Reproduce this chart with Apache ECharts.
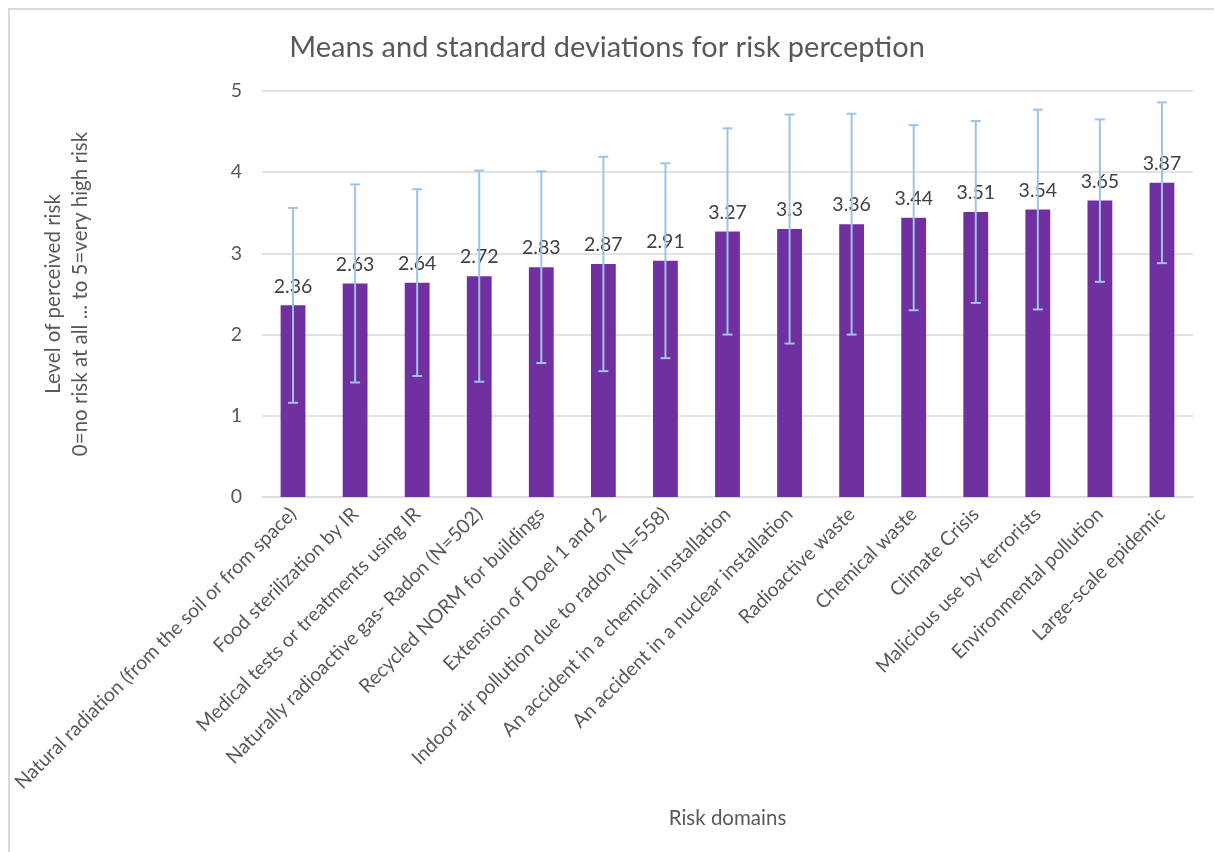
<!DOCTYPE html>
<html>
<head>
<meta charset="utf-8">
<script src="https://cdn.jsdelivr.net/npm/echarts@6/dist/echarts.min.js"></script>
<style>html,body{margin:0;padding:0;background:#fff;}#c{width:1214px;height:852px;}</style>
</head>
<body>
<div id="c"></div>
<script>
const categories = [
  "Natural radiation (from the soil or from space)",
  "Food sterilization by IR",
  "Medical tests or treatments using IR",
  "Naturally radioactive gas- Radon (N=502)",
  "Recycled NORM for buildings",
  "Extension of Doel 1 and 2",
  "Indoor air pollution due to radon (N=558)",
  "An accident in a chemical installation",
  "An accident in a nuclear installation",
  "Radioactive waste",
  "Chemical waste",
  "Climate Crisis",
  "Malicious use by terrorists",
  "Environmental pollution",
  "Large-scale epidemic"
];
const means = [2.36, 2.63, 2.64, 2.72, 2.83, 2.87, 2.91, 3.27, 3.3, 3.36, 3.44, 3.51, 3.54, 3.65, 3.87];
const stdevs = [1.2, 1.22, 1.15, 1.3, 1.18, 1.32, 1.2, 1.27, 1.41, 1.36, 1.14, 1.12, 1.23, 1.0, 0.99];
const yTicks = [0, 1, 2, 3, 4, 5];

const FONT = "Lato";
const errData = means.map((m, i) => [i, m - stdevs[i], m + stdevs[i]]);

const chart = echarts.init(document.getElementById('c'));
chart.setOption({
  animation: false,
  backgroundColor: '#fff',
  textStyle: { fontFamily: FONT },
  title: {
    text: 'Means and standard deviations for risk perception',
    left: 'center',
    top: 28,
    textStyle: { fontFamily: FONT, fontSize: 29, fontWeight: 'normal', color: '#595959' }
  },
  graphic: [{
    type: 'rect', shape: { x: 9, y: 9, width: 1300, height: 900 },
    style: { fill: 'none', stroke: '#d9d9d9', lineWidth: 2 }, silent: true, z: -1
  }],
  grid: { left: 262, right: 21, top: 91, bottom: 355 },
  xAxis: {
    type: 'category',
    data: categories,
    name: 'Risk domains',
    nameLocation: 'middle',
    nameGap: 311,
    nameTextStyle: { fontFamily: FONT, fontSize: 20.5, color: '#595959' },
    axisTick: { show: false },
    axisLine: { lineStyle: { color: '#d9d9d9', width: 1.5 } },
    axisLabel: { rotate: 45, interval: 0, margin: 14, fontFamily: FONT, fontSize: 19.5, color: '#595959' }
  },
  yAxis: {
    type: 'value',
    min: yTicks[0], max: yTicks[yTicks.length - 1], interval: 1,
    name: 'Level of perceived risk\n0=no risk at all ... to 5=very high risk',
    nameLocation: 'middle',
    nameRotate: 90,
    nameGap: 168,
    nameTextStyle: { fontFamily: FONT, fontSize: 20.5, color: '#595959', lineHeight: 27 },
    axisLine: { show: false },
    axisTick: { show: false },
    splitLine: { lineStyle: { color: '#d9d9d9', width: 1.5 } },
    axisLabel: { margin: 20, fontFamily: FONT, fontSize: 19.5, color: '#595959' }
  },
  series: [{
    type: 'bar',
    data: means,
    barWidth: '40%',
    itemStyle: { color: '#7030A0' },
    label: { show: true, position: 'top', distance: 9, fontFamily: FONT, fontSize: 19.5, color: '#404040' },
    z: 2
  }, {
    type: 'custom',
    data: errData,
    z: 3,
    renderItem: function (params, api) {
      const x = api.value(0);
      const lo = api.coord([x, api.value(1)]);
      const hi = api.coord([x, api.value(2)]);
      const hw = 5;
      const style = { stroke: '#9DC3E6', lineWidth: 2, fill: null };
      return {
        type: 'group',
        children: [
          { type: 'line', shape: { x1: hi[0], y1: hi[1], x2: lo[0], y2: lo[1] }, style: style },
          { type: 'line', shape: { x1: hi[0] - hw, y1: hi[1], x2: hi[0] + hw, y2: hi[1] }, style: style },
          { type: 'line', shape: { x1: lo[0] - hw, y1: lo[1], x2: lo[0] + hw, y2: lo[1] }, style: style }
        ]
      };
    }
  }]
});
</script>
</body>
</html>
